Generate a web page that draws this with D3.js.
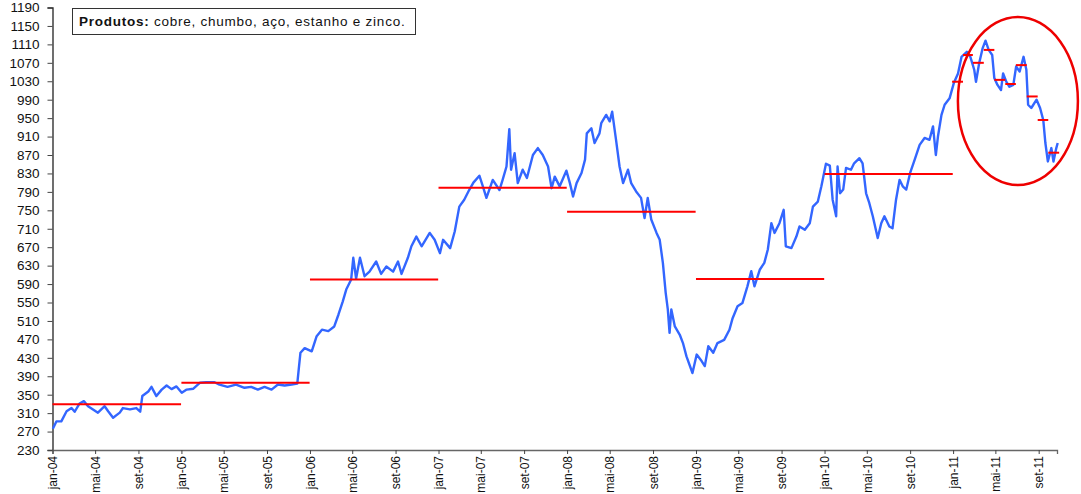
<!DOCTYPE html>
<html>
<head>
<meta charset="utf-8">
<script src="https://cdn.jsdelivr.net/npm/d3@7"></script>
<style>
  body { margin: 0; background: #fff; }
  svg { display: block; font-family: "Liberation Sans", Arial, sans-serif; }
</style>
</head>
<body>
<div id="grafico"></div>
<script>
// Índice de preços de metais (cobre, chumbo, aço, estanho e zinco)

const seriesDates = [
  "2004-01-02","2004-01-12","2004-01-26","2004-02-10","2004-02-24","2004-03-04","2004-03-18","2004-03-30",
  "2004-04-11","2004-04-25","2004-05-09","2004-05-28","2004-06-07","2004-06-21","2004-07-10","2004-07-19",
  "2004-08-08","2004-08-26","2004-09-06","2004-09-12","2004-09-29","2004-10-08","2004-10-22","2004-11-06",
  "2004-11-20","2004-12-04","2004-12-18","2005-01-02","2005-01-16","2005-02-04","2005-02-23","2005-03-12",
  "2005-04-05","2005-04-19","2005-05-12","2005-06-05","2005-06-29","2005-07-18","2005-08-06","2005-08-25",
  "2005-09-14","2005-10-02","2005-10-21","2005-11-10","2005-11-26","2005-12-01","2005-12-05","2005-12-17",
  "2006-01-06","2006-01-20","2006-02-04","2006-02-22","2006-03-11","2006-03-23","2006-04-04","2006-04-14",
  "2006-04-28","2006-05-04","2006-05-12","2006-05-23","2006-06-05","2006-06-19","2006-07-08","2006-07-22",
  "2006-08-06","2006-08-25","2006-09-08","2006-09-18","2006-10-06","2006-10-16","2006-10-30","2006-11-14",
  "2006-12-07","2006-12-21","2007-01-05","2007-01-14","2007-02-03","2007-02-16","2007-03-01","2007-03-15",
  "2007-03-29","2007-04-10","2007-04-27","2007-05-06","2007-05-17","2007-06-04","2007-06-23","2007-07-02",
  "2007-07-13","2007-07-21","2007-07-26","2007-08-05","2007-08-14","2007-08-28","2007-09-09","2007-09-26",
  "2007-10-10","2007-10-24","2007-11-08","2007-11-18","2007-11-27","2007-12-11","2007-12-30","2008-01-09",
  "2008-01-18","2008-01-28","2008-02-11","2008-02-21","2008-02-26","2008-03-10","2008-03-19","2008-04-02",
  "2008-04-07","2008-04-21","2008-05-01","2008-05-08","2008-05-19","2008-05-29","2008-06-08","2008-06-22",
  "2008-07-01","2008-07-15","2008-07-29","2008-08-08","2008-08-17","2008-08-27","2008-09-11","2008-09-20",
  "2008-09-29","2008-10-07","2008-10-13","2008-10-18","2008-10-23","2008-11-02","2008-11-16","2008-11-25",
  "2008-12-05","2008-12-22","2009-01-03","2009-01-17","2009-01-26","2009-02-05","2009-02-19","2009-03-03",
  "2009-03-22","2009-04-06","2009-04-15","2009-04-29","2009-05-13","2009-05-27","2009-06-07","2009-06-16",
  "2009-07-01","2009-07-14","2009-07-24","2009-08-03","2009-08-12","2009-08-26","2009-09-07","2009-09-13",
  "2009-09-29","2009-10-13","2009-10-22","2009-11-06","2009-11-20","2009-11-29","2009-12-13","2009-12-23",
  "2010-01-05","2010-01-16","2010-01-24","2010-02-03","2010-02-07","2010-02-14","2010-02-23","2010-03-03",
  "2010-03-17","2010-03-26","2010-04-10","2010-04-19","2010-04-29","2010-05-08","2010-05-18","2010-06-01",
  "2010-06-11","2010-06-20","2010-07-04","2010-07-13","2010-07-23","2010-08-02","2010-08-11","2010-08-21",
  "2010-09-01","2010-09-14","2010-09-28","2010-10-12","2010-10-26","2010-11-05","2010-11-13","2010-11-19",
  "2010-11-29","2010-12-08","2010-12-22","2011-01-03","2011-01-15","2011-01-25","2011-02-09","2011-02-19",
  "2011-03-02","2011-03-07","2011-03-16","2011-03-26","2011-04-03","2011-04-12","2011-04-22","2011-04-28",
  "2011-05-07","2011-05-17","2011-05-23","2011-06-01","2011-06-10","2011-06-21","2011-06-29","2011-07-09",
  "2011-07-20","2011-07-28","2011-08-02","2011-08-11","2011-08-26","2011-09-05","2011-09-14","2011-09-20",
  "2011-09-27","2011-10-07","2011-10-13","2011-10-21","2011-10-25"
];

const seriesValues = [
  276, 292, 292, 314, 321, 313, 331, 336,
  325, 318, 311, 325, 314, 300, 311, 321,
  318, 321, 313, 347, 357, 367, 347, 361,
  370, 362, 368, 354, 361, 363, 376, 377,
  377, 372, 367, 372, 365, 367, 361, 367,
  361, 372, 370, 372, 374, 412, 441, 451,
  444, 477, 491, 488, 498, 524, 552, 578,
  600, 647, 602, 647, 607, 617, 639, 612,
  628, 617, 639, 612, 647, 672, 693, 672,
  701, 686, 657, 686, 668, 704, 758, 773,
  794, 810, 825, 804, 777, 816, 794, 816,
  845, 926, 838, 874, 809, 838, 820, 870,
  885, 870, 845, 798, 823, 802, 836, 809,
  780, 809, 831, 860, 917, 928, 896, 917,
  939, 957, 943, 964, 903, 845, 809, 838,
  809, 791, 777, 733, 777, 730, 701, 686,
  636, 571, 535, 484, 535, 498, 480, 462,
  433, 397, 437, 423, 412, 455, 441, 462,
  469, 491, 516, 542, 549, 585, 618, 585,
  621, 636, 665, 722, 701, 722, 751, 672,
  668, 693, 715, 708, 722, 758, 769, 802,
  851, 847, 773, 737, 845, 787, 795, 842,
  838, 852, 863, 852, 787, 766, 737, 690,
  722, 737, 715, 711, 773, 816, 802, 795,
  831, 860, 892, 907, 903, 932, 870, 910,
  957, 979, 993, 1026, 1047, 1083, 1094, 1083,
  1055, 1029, 1069, 1102, 1118, 1098, 1087, 1037,
  1022, 1011, 1047, 1029, 1018, 1022, 1062, 1051,
  1083, 1055, 979, 972, 990, 972, 946, 896,
  856, 885, 856, 885, 896
];

// médias anuais (2004-2010)
const avgYears = [2004, 2005, 2006, 2007, 2008, 2009, 2010];
const avgYearValues = [329, 376, 600, 799, 747, 601, 829];

// médias mensais de 2011 (jan a out)
const avgMonthValues2011 = [1029, 1087, 1070, 1098, 1033, 1024, 1065, 997, 946, 875];

const yTicks = d3.range(230, 1191, 40);
const monthNames = ["jan","fev","mar","abr","mai","jun","jul","ago","set","out","nov","dez"];
const legendBold = "Produtos:";
const legendText = " cobre, chumbo, aço, estanho e zinco.";

const width = 1081, height = 494;
const parseDate = d3.timeParse("%Y-%m-%d");

const svg = d3.select("#grafico").append("svg")
    .attr("width", width)
    .attr("height", height);

svg.append("rect").attr("width", width).attr("height", height).attr("fill", "#fff");

const x = d3.scaleTime()
    .domain([new Date(2004, 0, 1), new Date(2011, 9, 23)])
    .range([52.5, 1057]);

const y = d3.scaleLinear()
    .domain([230, 1190])
    .range([450, 7.5]);

// Eixo Y
const yAxis = svg.append("g")
    .attr("transform", "translate(52.5,0)")
    .call(d3.axisLeft(y).tickValues(yTicks).tickFormat(d3.format("d")).tickSize(5).tickPadding(8));
yAxis.select(".domain").attr("stroke", "#222").attr("stroke-width", 1.3);
yAxis.selectAll(".tick line").attr("stroke", "#444");
yAxis.selectAll("text").attr("font-size", "13.5px").attr("fill", "#111")
    .attr("font-family", "'Liberation Sans', Arial, sans-serif");

// Eixo X
const xAxis = svg.append("g")
    .attr("transform", "translate(0,450)")
    .call(d3.axisBottom(x)
        .ticks(d3.timeMonth.filter(d => d.getMonth() % 4 === 0))
        .tickSize(4)
        .tickFormat(d => monthNames[d.getMonth()] + "-" + d3.timeFormat("%y")(d)));
xAxis.select(".domain").attr("stroke", "#666").attr("stroke-width", 1.3);
xAxis.selectAll(".tick line").attr("stroke", "#444");
xAxis.selectAll("text")
    .attr("font-size", "12px")
    .attr("fill", "#111")
    .attr("font-family", "'Liberation Sans', Arial, sans-serif")
    .attr("text-anchor", "end")
    .attr("transform", "rotate(-90)")
    .attr("x", -6)
    .attr("y", 0)
    .attr("dy", "0.35em");

// Série principal
const data = seriesDates.map((d, i) => ({ date: parseDate(d), value: seriesValues[i] }));

svg.append("path")
    .datum(data)
    .attr("fill", "none")
    .attr("stroke", "#3366ff")
    .attr("stroke-width", 2.4)
    .attr("stroke-linejoin", "round")
    .attr("d", d3.line().x(d => x(d.date)).y(d => y(d.value)));

// Médias anuais
svg.selectAll("line.media-ano")
    .data(avgYears.map((yr, i) => ({ yr, v: avgYearValues[i] })))
    .enter()
    .append("line")
    .attr("class", "media-ano")
    .attr("x1", d => x(new Date(d.yr, 0, 1)))
    .attr("x2", d => x(new Date(d.yr, 11, 31)))
    .attr("y1", d => y(d.v))
    .attr("y2", d => y(d.v))
    .attr("stroke", "#ff0000")
    .attr("stroke-width", 2);

// Médias mensais 2011
svg.selectAll("line.media-mes")
    .data(avgMonthValues2011.map((v, i) => ({ m: i, v })))
    .enter()
    .append("line")
    .attr("class", "media-mes")
    .attr("x1", d => x(new Date(2011, d.m, 1)) - 1)
    .attr("x2", d => x(new Date(2011, d.m + 1, 1)) - 1)
    .attr("y1", d => y(d.v))
    .attr("y2", d => y(d.v))
    .attr("stroke", "#ff0000")
    .attr("stroke-width", 2);

// Destaque (elipse)
svg.append("ellipse")
    .attr("cx", x(new Date(2011, 6, 4)))
    .attr("cy", y(987))
    .attr("rx", 60)
    .attr("ry", 84)
    .attr("fill", "none")
    .attr("stroke", "#ee0000")
    .attr("stroke-width", 2.5);

// Caixa de texto
const legend = svg.append("g").attr("transform", "translate(72,8)");
legend.append("rect")
    .attr("x", 0.5).attr("y", 0.5)
    .attr("width", 343).attr("height", 26)
    .attr("fill", "#fff")
    .attr("stroke", "#333")
    .attr("stroke-width", 1);
const lt = legend.append("text")
    .attr("x", 7)
    .attr("y", 18)
    .attr("font-size", "13.5px")
    .attr("letter-spacing", "0.75px")
    .attr("fill", "#111");
lt.append("tspan").attr("font-weight", "bold").text(legendBold);
lt.append("tspan").text(legendText);
</script>
</body>
</html>
